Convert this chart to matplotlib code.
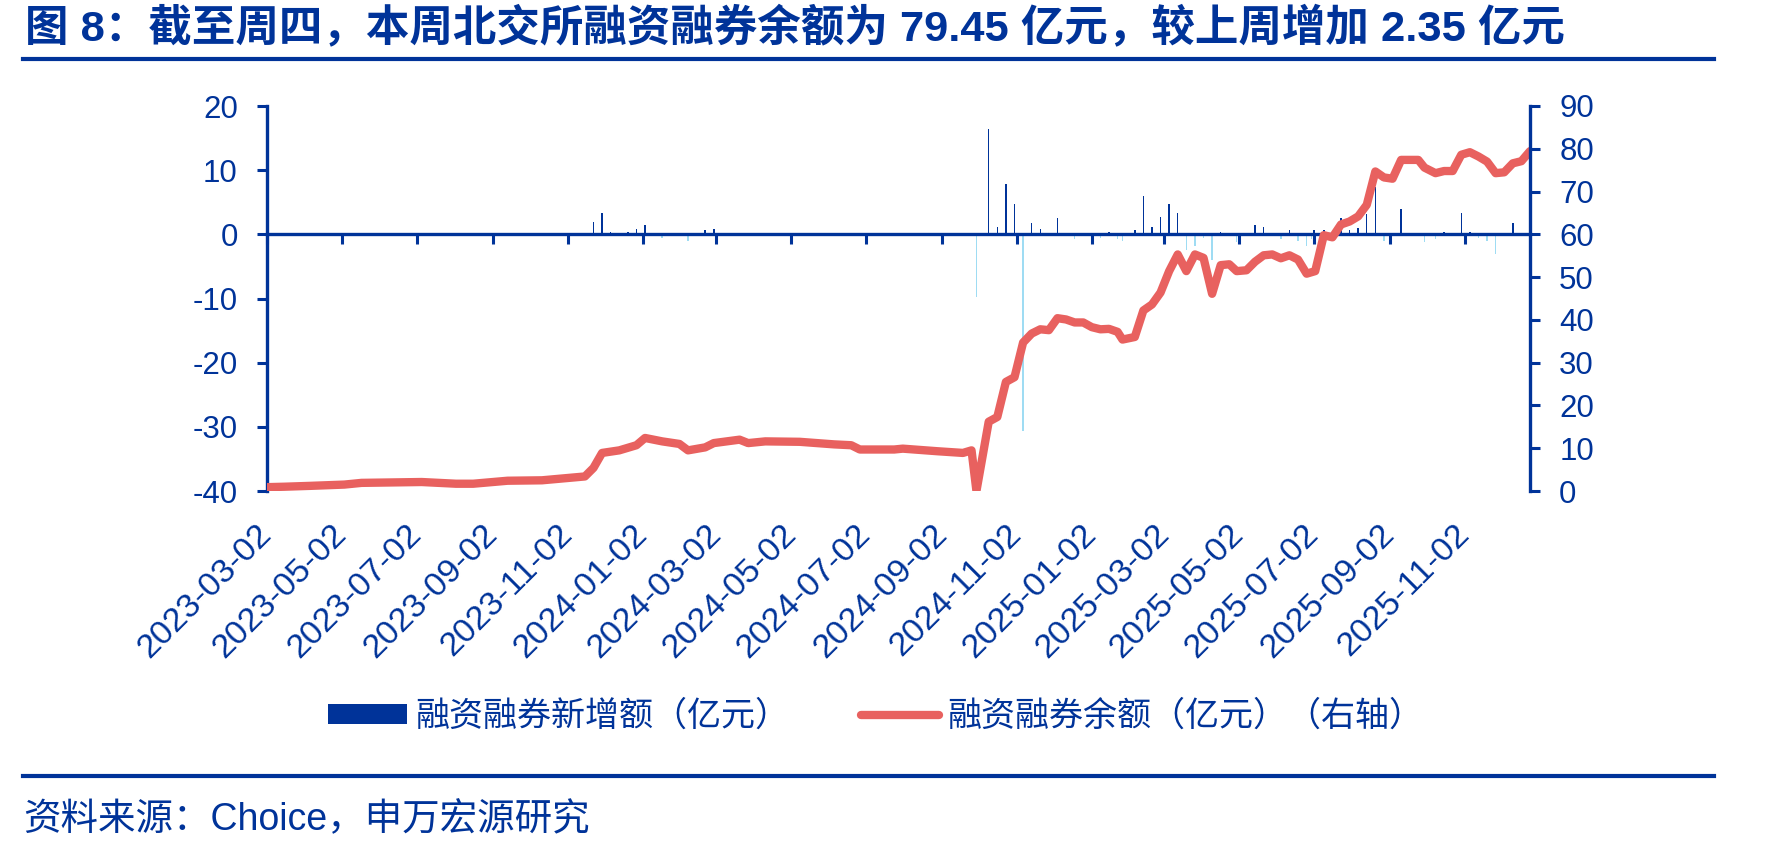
import pandas as pd
import matplotlib.pyplot as plt
import matplotlib.dates as mdates
from matplotlib.lines import Line2D
from matplotlib.patches import Patch

plt.rcParams['font.family'] = ['Liberation Sans', 'Noto Sans CJK SC']
plt.rcParams['axes.unicode_minus'] = False

BLUE = '#003399'
LIGHT = '#9fdcf3'
RED = '#e8615f'

# 融资融券余额（亿元），右轴
line_dates = ['2023-03-02', '2023-03-16', '2023-04-06', '2023-05-04', '2023-05-18',
              '2023-07-06', '2023-07-20', '2023-08-03', '2023-08-17', '2023-09-14',
              '2023-10-12', '2023-11-16', '2023-11-23', '2023-11-30', '2023-12-14',
              '2023-12-28', '2024-01-04', '2024-01-18', '2024-02-01', '2024-02-08',
              '2024-02-22', '2024-02-29', '2024-03-21', '2024-03-28', '2024-04-11',
              '2024-05-09', '2024-06-06', '2024-06-20', '2024-06-27', '2024-07-25',
              '2024-08-01', '2024-08-29', '2024-09-19', '2024-09-26', '2024-09-30',
              '2024-10-10', '2024-10-17', '2024-10-24', '2024-10-31', '2024-11-07',
              '2024-11-14', '2024-11-21', '2024-11-28', '2024-12-05', '2024-12-12',
              '2024-12-19', '2024-12-26', '2025-01-02', '2025-01-09', '2025-01-16',
              '2025-01-23', '2025-01-27', '2025-02-06', '2025-02-13', '2025-02-20',
              '2025-02-27', '2025-03-06', '2025-03-13', '2025-03-20', '2025-03-27',
              '2025-04-03', '2025-04-10', '2025-04-17', '2025-04-24', '2025-04-30',
              '2025-05-08', '2025-05-15', '2025-05-22', '2025-05-29', '2025-06-05',
              '2025-06-12', '2025-06-19', '2025-06-26', '2025-07-03', '2025-07-10',
              '2025-07-17', '2025-07-24', '2025-07-31', '2025-08-07', '2025-08-14',
              '2025-08-21', '2025-08-28', '2025-09-04', '2025-09-11', '2025-09-25',
              '2025-09-30', '2025-10-09', '2025-10-16', '2025-10-23', '2025-10-30',
              '2025-11-06', '2025-11-13', '2025-11-20', '2025-11-27', '2025-12-04',
              '2025-12-11', '2025-12-18', '2025-12-25']
line_vals = [0.9, 1.0, 1.2, 1.5, 1.9,
             2.1, 1.9, 1.7, 1.7, 2.4,
             2.5, 3.4, 5.4, 8.9, 9.5,
             10.7, 12.4, 11.6, 11.0, 9.5,
             10.2, 11.2, 12.0, 11.2, 11.6,
             11.5, 10.9, 10.7, 9.7, 9.7,
             9.9, 9.3, 8.9, 9.5, 0.0,
             16.2, 17.3, 25.5, 26.6, 34.7,
             36.8, 37.8, 37.6, 40.4, 40.1,
             39.4, 39.4, 38.3, 37.8, 37.9,
             37.2, 35.4, 36.0, 42.2, 43.6,
             46.4, 51.4, 55.3, 51.4, 55.3,
             54.5, 46.1, 52.8, 53.0, 51.4,
             51.6, 53.6, 55.1, 55.3, 54.4,
             55.1, 54.1, 50.8, 51.4, 59.8,
             59.3, 62.3, 63.0, 64.2, 66.9,
             74.7, 73.3, 73.0, 77.4, 77.4,
             75.6, 74.3, 74.8, 74.8, 78.6,
             79.2, 78.2, 77.0, 74.3, 74.5,
             76.6, 77.1, 79.45]

# 融资融券新增额（亿元），左轴
bar_dates = ['2023-05-11', '2023-09-14', '2023-10-19', '2023-11-16', '2023-11-23',
             '2023-11-30', '2023-12-07', '2023-12-14', '2023-12-21', '2023-12-28',
             '2024-01-04', '2024-01-18', '2024-02-08', '2024-02-22', '2024-02-29',
             '2024-03-21', '2024-09-30', '2024-10-10', '2024-10-17', '2024-10-24',
             '2024-10-31', '2024-11-07', '2024-11-14', '2024-11-21', '2024-12-05',
             '2024-12-19', '2025-01-09', '2025-01-16', '2025-01-23', '2025-01-27',
             '2025-02-06', '2025-02-13', '2025-02-20', '2025-02-27', '2025-03-06',
             '2025-03-13', '2025-03-20', '2025-03-27', '2025-04-03', '2025-04-10',
             '2025-04-17', '2025-04-30', '2025-05-08', '2025-05-15', '2025-05-22',
             '2025-06-05', '2025-06-12', '2025-06-19', '2025-06-26', '2025-06-30',
             '2025-07-02', '2025-07-10', '2025-07-24', '2025-07-31', '2025-08-07',
             '2025-08-14', '2025-08-21', '2025-08-28', '2025-09-11', '2025-09-30',
             '2025-10-09', '2025-10-16', '2025-10-30', '2025-11-06', '2025-11-13',
             '2025-11-20', '2025-11-27', '2025-12-04', '2025-12-11']
bar_vals = [0.1, 0.1, 0.1, 0.2, 2.0,
            3.3, 0.3, 0.2, 0.4, 0.8,
            1.45, -0.5, -1.1, 0.6, 0.8,
            0.2, -9.8, 16.4, 1.1, 7.9,
            4.7, -30.7, 1.7, 0.9, 2.6,
            -0.7, -0.5, 0.3, -0.7, -1.1,
            0.6, 6.0, 1.1, 2.7, 4.8,
            3.4, -2.4, -1.8, -0.6, -4.0,
            0.3, -1.2, 0.2, 1.5, 1.2,
            -0.7, 0.6, -1.0, -1.8, -0.7,
            0.6, 0.7, 2.6, 0.7, 1.0,
            3.1, 7.4, -1.1, 3.9, -1.2,
            -0.8, 0.4, 3.4, 0.4, -0.5,
            -1.1, -3.1, 0.2, 1.7]

tick_dates = ['2023-03-02', '2023-05-02', '2023-07-02', '2023-09-02', '2023-11-02',
              '2024-01-02', '2024-03-02', '2024-05-02', '2024-07-02', '2024-09-02',
              '2024-11-02', '2025-01-02', '2025-03-02', '2025-05-02', '2025-07-02',
              '2025-09-02', '2025-11-02']

title = '图 8：截至周四，本周北交所融资融券余额为 79.45 亿元，较上周增加 2.35 亿元'
source = '资料来源：Choice，申万宏源研究'

ld = pd.to_datetime(line_dates)
bd = pd.to_datetime(bar_dates)
td = mdates.date2num(pd.to_datetime(tick_dates))

W, H = 1779, 852
fig = plt.figure(figsize=(W / 100, H / 100), dpi=100)
ax = fig.add_axes([267 / W, 1 - 491 / H, (1530 - 267) / W, (491 - 106) / H])

colors = [BLUE if v > 0 else LIGHT for v in bar_vals]
ax.bar(bd, bar_vals, width=1.2, color=colors, linewidth=0)
ax.set_ylim(-40, 20)
ax.set_yticks(range(-40, 21, 10))
ax.set_xlim(pd.Timestamp('2023-03-02'), pd.Timestamp('2025-12-25'))

ax2 = ax.twinx()
ax2.plot(ld, line_vals, color=RED, lw=6, solid_joinstyle='round', solid_capstyle='round')
ax2.set_ylim(0, 90)
ax2.set_yticks(range(0, 91, 10))

# x axis line sits at 0, labels at the bottom
ax.spines['bottom'].set_position(('data', 0))
ax.set_xticks(td)
ax.tick_params(axis='x', direction='out', length=7, width=2.2, color=BLUE, labelbottom=False)
sec = ax.secondary_xaxis('bottom')
sec.set_xticks(td)
sec.set_xticklabels(tick_dates, rotation=45, ha='right', va='center', rotation_mode='anchor')
sec.tick_params(axis='x', length=0, pad=28, labelsize=24.5, labelcolor=BLUE)
sec.spines['bottom'].set_visible(False)

for s in ['top', 'right']:
    ax.spines[s].set_visible(False)
for s in ['top', 'left', 'bottom']:
    ax2.spines[s].set_visible(False)
for sp in [ax.spines['left'], ax.spines['bottom'], ax2.spines['right']]:
    sp.set_color(BLUE)
    sp.set_linewidth(2.4)

ax.tick_params(axis='y', direction='out', length=7, width=2.2, color=BLUE,
               labelsize=22.5, labelcolor=BLUE, pad=14)
ax2.tick_params(axis='y', direction='out', length=7, width=2.2, color=BLUE,
                labelsize=22.5, labelcolor=BLUE, pad=14)

handles = [Patch(facecolor=BLUE, edgecolor='none'),
           Line2D([], [], color=RED, lw=6, solid_capstyle='round')]
labels = ['融资融券新增额（亿元）', '融资融券余额（亿元）（右轴）']
fig.legend(handles, labels, loc='center', bbox_to_anchor=(876 / W, 1 - 717 / H),
           ncol=2, frameon=False, fontsize=24.5, labelcolor=BLUE,
           handlelength=2.3, handleheight=0.5, handletextpad=0.25, columnspacing=2.1)

fig.text(25 / W, 1 - 28 / H, title, fontsize=31.3, fontweight='bold', color=BLUE,
         ha='left', va='center')
fig.add_artist(Line2D([23 / W, 1714 / W], [1 - 59 / H] * 2, color=BLUE, lw=3))
fig.add_artist(Line2D([23 / W, 1714 / W], [1 - 776 / H] * 2, color=BLUE, lw=3))
fig.text(23 / W, 1 - 820 / H, source, fontsize=27, color=BLUE, ha='left', va='center')

fig.savefig('out.png', dpi=100)
